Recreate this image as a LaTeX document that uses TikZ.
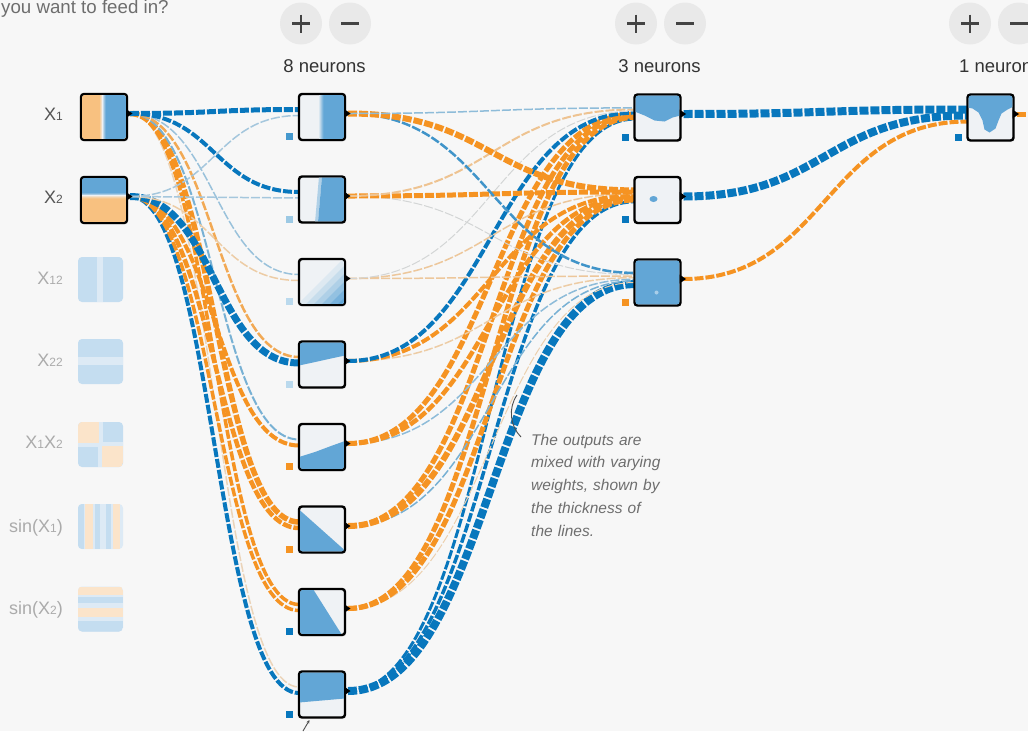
\documentclass[tikz,border=0pt]{standalone}
\usepackage{fontspec}
\setmainfont{Liberation Sans}
\usetikzlibrary{calc,arrows.meta,shadows}

% palette
\definecolor{bg}{HTML}{F7F7F7}
\definecolor{btn}{HTML}{E9E9E9}
\definecolor{lB}{HTML}{0877BD}
\definecolor{lO}{HTML}{F59322}
\definecolor{lZ}{HTML}{E8EAEB}
\definecolor{hB}{RGB}{98,166,214}
\definecolor{hW}{RGB}{239,242,245}
\definecolor{hO}{RGB}{248,193,128}
\definecolor{pB}{RGB}{196,221,240}
\definecolor{pL}{RGB}{221,234,245}
\definecolor{pO}{RGB}{251,228,202}
\definecolor{ink}{HTML}{333333}
\definecolor{soft}{HTML}{555555}
\definecolor{faint}{HTML}{ABABAB}
\definecolor{note}{HTML}{6E6E6E}

\pgfdeclarelayer{canvas}
\pgfdeclarelayer{wires}
\pgfsetlayers{canvas,wires,main}

% weighted link: source node, target node, target y offset, colour, width
\newcommand\wire[5]{%
  \draw[wire,draw=#4,line width=#5pt]
    let \p1=($(#1.east)+(3,-3.5)$), \p2=($(#2.west)+(0,#3)$) in
    (\p1) .. controls ({(\x1+\x2)/2},\y1) and ({(\x1+\x2)/2},\y2) .. (\p2);}
% output tip on the right of a unit
\newcommand\outtip[1]{\fill ($(#1.east)+(-1,-8)$) -- ++(6.5,4.5) -- ++(-6.5,4.5) -- cycle;}
% bias square below left of a unit
\newcommand\bias[2]{\fill[#2] ($(#1.south west)+(-13,-7)$) rectangle ++(7,7);}
% heat map inside a unit: drawn in a frame whose origin is the unit's top left corner
\newcommand\heatmap[2]{%
  \begin{scope}
    \clip[rounded corners=2pt] ($(#1.north west)+(1.2,1.2)$) rectangle ($(#1.south east)+(-1.2,-1.2)$);
    \begin{scope}[shift={(#1.north west)}] #2 \end{scope}
  \end{scope}}
% faded feature swatch: same, without a border
\newcommand\swatch[2]{%
  \begin{scope}
    \clip[rounded corners=4pt] (#1.north west) rectangle (#1.south east);
    \begin{scope}[shift={(#1.north west)}] #2 \end{scope}
  \end{scope}}
\newcommand\ssc[1]{{\fontsize{12}{12}\selectfont #1}}

\tikzset{
  wire/.style={dash pattern=on 9pt off 2pt, line cap=butt},
  unit/.style={rectangle, draw=black, line width=2.4pt, rounded corners=3pt,
    minimum size=46pt, inner sep=0pt, outer sep=0pt, fill=hW,
    drop shadow={shadow xshift=1pt, shadow yshift=-1.5pt, opacity=.15}},
  feat/.style={rectangle, rounded corners=4pt, minimum size=45pt,
    inner sep=0pt, outer sep=0pt, fill=pB},
  btnc/.style={circle, fill=btn, minimum size=42pt, inner sep=0pt},
  sym/.style={draw=soft!80!black, line width=2.4pt},
  flab/.style={anchor=base east, font=\fontsize{18}{20}\selectfont, inner sep=0pt},
  layerlab/.style={font=\fontsize{18.5}{20}\selectfont, text=ink, inner sep=0pt},
}

\begin{document}
\begin{tikzpicture}[x=1pt,y=-1pt]
\begin{pgfonlayer}{canvas}
  \fill[bg] (0,0) rectangle (1028,731);
\end{pgfonlayer}
\useasboundingbox (0,0) rectangle (1028,731);

% ---------- header ----------
\node[anchor=base west, font=\fontsize{18.7}{20}\selectfont, text=note, inner sep=0pt]
  (ask) at (1,13) {you want to feed in?};

\foreach \n/\x in {a/301,b/636,c/970} {
  \node[btnc] (plus\n) at (\x,23.5) {};
  \draw[sym] ($(plus\n.center)+(-9,0)$) -- ++(18,0);
  \draw[sym] ($(plus\n.center)+(0,-9)$) -- ++(0,18);
}
\foreach \n/\x in {a/350,b/685,c/1019} {
  \node[btnc] (minus\n) at (\x,23.5) {};
  \draw[sym] ($(minus\n.center)+(-9,0)$) -- ++(18,0);
}
\node[layerlab, anchor=base] (cnt1) at (324.5,72) {8 neurons};
\node[layerlab, anchor=base] (cnt2) at (659.5,72) {3 neurons};
\node[layerlab, anchor=base west] (cnt3) at (959,72) {1 neuron};

% ---------- units ----------
\node[unit] (x1) at (104,117) {};
\node[unit] (x2) at (104,200) {};
\node[feat] (f1) at (100.5,279.5) {};
\node[feat] (f2) at (100.5,361.5) {};
\node[feat] (f3) at (100.5,444.5) {};
\node[feat, fill=pL] (f4) at (100.5,526.5) {};
\node[feat, fill=pL] (f5) at (100.5,609) {};
\foreach \i/\y in {1/117,2/199.5,3/282,4/364.5,5/447,6/529.5,7/612,8/694.5}
  \node[unit] (n\i) at (322,\y) {};
\foreach \i/\y in {1/117.5,2/200,3/282.5}
  \node[unit] (m\i) at (657.5,\y) {};
\node[unit] (out) at (990.5,117.5) {};
\coordinate (rim) at (1030,114);

% ---------- heat maps ----------
\heatmap{x1}{
   \fill[hO] (0,0) rectangle (46,46);
   \foreach \k/\c in {19/hO!70!hW,20/hO!40!hW,21/hW,22/hB!30!hW,23/hB!60!hW,24/hB!85!hW}
     \fill[\c] (\k,0) rectangle ({\k+1.05},46);
   \fill[hB] (25,0) rectangle (46,46);}
\heatmap{x2}{
   \fill[hB] (0,0) rectangle (46,16);
   \foreach \k/\c in {16/hB!80!hW,17/hB!50!hW,18/hW,19/hO!35!hW,20/hO!65!hW,21/hO!88!hW}
     \fill[\c] (0,\k) rectangle (46,{\k+1.05});
   \fill[hO] (0,22) rectangle (46,46);}
\swatch{f1}{\fill[pL] (19,0) rectangle (25,45);}
\swatch{f2}{\fill[pL] (0,18) rectangle (45,26);}
\swatch{f3}{
   \fill[pL] (20,0) rectangle (25,45); \fill[pL] (0,20) rectangle (45,25);
   \fill[pO] (0,0) rectangle (21,21); \fill[pO] (24,24) rectangle (45,45);}
\swatch{f4}{
   \fill[pB] (0,0) rectangle (6,45); \fill[pO] (7,0) rectangle (15,45);
   \fill[pB] (17,0) rectangle (22,45); \fill[pB] (28,0) rectangle (33,45);
   \fill[pO] (35,0) rectangle (42,45);}
\swatch{f5}{
   \fill[pO] (0,0) rectangle (45,8); \fill[pB] (0,10) rectangle (45,16);
   \fill[pO] (0,21) rectangle (45,30); \fill[pB] (0,34) rectangle (45,45);}

\heatmap{n1}{
   \foreach \k/\c in {20/15,21/35,22/55,23/75,24/92}
     \fill[hB!\c!hW] (\k,0) rectangle ({\k+1.05},46);
   \fill[hB] (25,0) rectangle (46,46);}
\heatmap{n2}{
   \fill[hB!45!hW] (20,0) -- (23,0) -- (19,46) -- (16,46) -- cycle;
   \fill[hB] (23,0) -- (46,0) -- (46,46) -- (19,46) -- cycle;}
\heatmap{n3}{
   \foreach \d/\c in {44/12,52/28,60/45,68/65,76/85,84/100}
     \fill[hB!\c!hW] ({\d-46},46) -- (46,{\d-46}) -- (46,46) -- cycle;}
\heatmap{n4}{\fill[hB] (0,0) -- (46,0) -- (46,14) -- (32,17) -- (14,21) -- (0,24) -- cycle;}
\heatmap{n5}{\fill[hB] (0,33) -- (16,28) -- (32,22) -- (46,17) -- (46,46) -- (0,46) -- cycle;}
\heatmap{n6}{\fill[hB] (0,3) -- (46,44) -- (46,46) -- (0,46) -- cycle;}
\heatmap{n7}{\fill[hB] (0,0) -- (14,0) -- (43,46) -- (0,46) -- cycle;}
\heatmap{n8}{\fill[hB] (0,0) -- (46,0) -- (46,27) -- (0,31) -- cycle;}
\heatmap{m1}{\fill[hB] (0,0) -- (46,0) -- (46,21) -- (38,23) -- (30,27) -- (20,26) -- (10,21) -- (0,17) -- cycle;}
\heatmap{m2}{\fill[hB] (19,22) ellipse [x radius=4, y radius=3];}
\heatmap{m3}{\fill[hB] (0,0) rectangle (46,46); \fill[hB!55!white] (22,33) circle (2);}
\heatmap{out}{
   \fill[hB] (0,0) -- (46,0) -- (46,12) -- (40,15) -- (34,19) -- (31,26) -- (28,34) -- (22,38)
        -- (17,35) -- (15,26) -- (11,18) -- (5,14) -- (0,13) -- cycle;}

% ---------- feature labels ----------
\node[flab, text=soft] (lx1) at (63,120) {X\ssc{1}};
\node[flab, text=soft] (lx2) at (63,203) {X\ssc{2}};
\node[flab, text=faint] (lf1) at (63,284.5) {X\ssc{12}};
\node[flab, text=faint] (lf2) at (63,366) {X\ssc{22}};
\node[flab, text=faint] (lf3) at (63,448.5) {X\ssc{1}X\ssc{2}};
\node[flab, text=faint] (lf4) at (63,532) {sin(X\ssc{1})};
\node[flab, text=faint] (lf5) at (63,614.5) {sin(X\ssc{2})};

% ---------- biases and output tips ----------
\bias{n1}{lB!75!white}  \bias{n2}{lB!40!white}  \bias{n3}{lB!28!white}  \bias{n4}{lB!28!white}
\bias{n5}{lO}           \bias{n6}{lO}           \bias{n7}{lB}           \bias{n8}{lB}
\bias{m1}{lB}           \bias{m2}{lB}           \bias{m3}{lO}           \bias{out}{lB}
\foreach \u in {x1,x2,n1,n2,n3,n4,n5,n6,n7,n8,m1,m2,m3,out} {\outtip{\u}}

% ---------- weighted links ----------
\begin{pgfonlayer}{wires}
  \draw[wire, draw=lO, line width=5pt] ($(out.east)+(3,-3.5)$) -- (rim);
  % second hidden layer -> output
  \wire{m3}{out}{4}{lO}{4}
  \wire{m2}{out}{-2}{lB}{8}
  \wire{m1}{out}{-8}{lB}{8}
  % first hidden layer -> second hidden layer
  \wire{n8}{m3}{1.6}{lB}{8}
  \wire{n8}{m2}{1.6}{lB}{3.5}
  \wire{n8}{m1}{1.6}{lB}{3}
  \wire{n7}{m3}{0}{lO!30!lZ}{1}
  \wire{n7}{m2}{0}{lO}{5}
  \wire{n7}{m1}{0}{lO}{5}
  \wire{n6}{m3}{-1.6}{lB!50!lZ}{1.5}
  \wire{n6}{m2}{-1.6}{lO}{6}
  \wire{n6}{m1}{-1.6}{lO}{5}
  \wire{n5}{m3}{-3.2}{lB!40!lZ}{1.5}
  \wire{n5}{m2}{-3.2}{lO}{4.5}
  \wire{n5}{m1}{-3.2}{lO}{5}
  \wire{n4}{m3}{-4.8}{lO!35!lZ}{1.5}
  \wire{n4}{m2}{-4.8}{lO}{4}
  \wire{n4}{m1}{-4.8}{lB}{4}
  \wire{n3}{m3}{-6.4}{lO!40!lZ}{1.5}
  \wire{n3}{m2}{-6.4}{lO!40!lZ}{1.5}
  \wire{n3}{m1}{-6.4}{lZ!80!gray}{1}
  \wire{n2}{m3}{-8}{lZ!80!gray}{1}
  \wire{n2}{m2}{-8}{lO}{5}
  \wire{n2}{m1}{-8}{lO!45!lZ}{2}
  \wire{n1}{m3}{-9.6}{lB!75!lZ}{2.5}
  \wire{n1}{m2}{-9.6}{lO}{6}
  \wire{n1}{m1}{-9.6}{lB!40!lZ}{1.5}
  % inputs -> first hidden layer
  \wire{x2}{n8}{-1.5}{lB}{4}
  \wire{x1}{n8}{-7.5}{lO!25!lZ}{1.5}
  \wire{x2}{n7}{-1.5}{lO}{3.5}
  \wire{x1}{n7}{-7.5}{lO}{3.5}
  \wire{x2}{n6}{-1.5}{lO}{4.5}
  \wire{x1}{n6}{-7.5}{lO}{5.5}
  \wire{x2}{n5}{-1.5}{lO}{4}
  \wire{x1}{n5}{-7.5}{lB!50!lZ}{2}
  \wire{x2}{n4}{-1.5}{lB}{7}
  \wire{x1}{n4}{-7.5}{lO!75!lZ}{2.5}
  \wire{x2}{n3}{-1.5}{lO!35!lZ}{1.5}
  \wire{x1}{n3}{-7.5}{lB!35!lZ}{1.5}
  \wire{x2}{n2}{-1.5}{lB!30!lZ}{1.5}
  \wire{x1}{n2}{-7.5}{lB}{4}
  \wire{x2}{n1}{-1.5}{lB!30!lZ}{1.5}
  \wire{x1}{n1}{-7.5}{lB}{5}
\end{pgfonlayer}

% ---------- annotations ----------
\node[anchor=base west, text width=160pt, align=left, inner sep=0pt, text=note,
  font=\fontsize{15.5}{22.75}\selectfont\itshape] (remark) at (531,445)
  {The outputs are\\ mixed with varying\\ weights, shown by\\ the thickness of\\ the lines.};
\coordinate (leadtop) at (517,395);
\coordinate (leadend) at (521,437);
\draw[draw=note!70!black, line width=0.9pt] (leadtop) .. controls (508,408) and (510,426) .. (leadend);
\coordinate (pointer) at (309.5,720);
\coordinate (pointerfoot) at (303,731);
\draw[draw=note!70!black, line width=0.9pt, -{Stealth[length=3.5pt,width=3pt]}] (pointerfoot) -- (pointer);
\end{tikzpicture}
\end{document}
